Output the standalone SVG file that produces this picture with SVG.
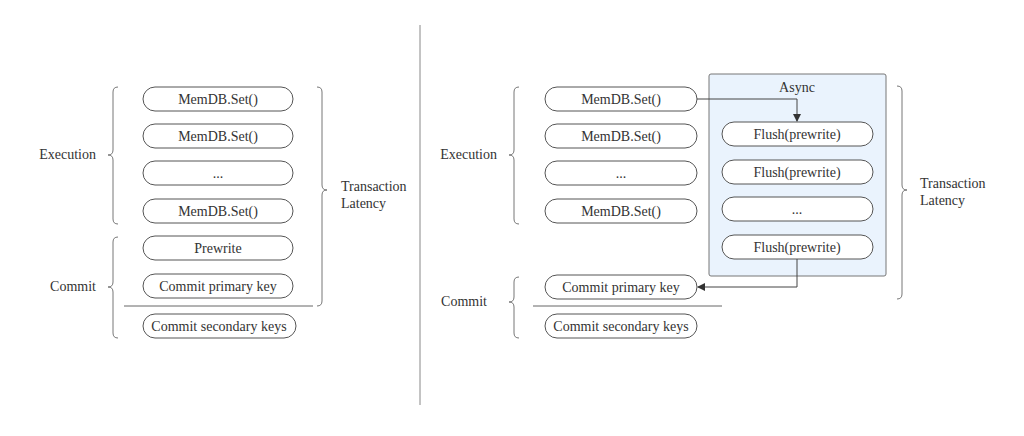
<svg xmlns="http://www.w3.org/2000/svg" width="1024" height="436" viewBox="0 0 1024 436" font-family="'Liberation Serif', 'DejaVu Serif', serif">
<style>
text{font-family:'Liberation Serif','DejaVu Serif',serif;font-size:14px;fill:#333;}
.p rect{fill:#fff;stroke:#555;stroke-width:1}
.p text{text-anchor:middle;dominant-baseline:central}
.b{fill:none;stroke:#777;stroke-width:1}
.c{fill:none;stroke:#444;stroke-width:1}
</style>
<defs><marker id="a" markerWidth="8" markerHeight="8" refX="7" refY="4" orient="auto"><path d="M0,0L8,4L0,8z" fill="#333"/></marker></defs>
<rect width="1024" height="436" fill="#fff"/>
<line x1="420" y1="25" x2="420" y2="405" stroke="#888"/>
<g id="left">
<g class="p"><rect x="143" y="87" width="150" height="24" rx="12"/><text x="218" y="99">MemDB.Set()</text></g>
<g class="p"><rect x="143" y="124" width="150" height="24" rx="12"/><text x="218" y="136">MemDB.Set()</text></g>
<g class="p"><rect x="143" y="161" width="150" height="24" rx="12"/><text x="218" y="173">...</text></g>
<g class="p"><rect x="143" y="199" width="150" height="24" rx="12"/><text x="218" y="211">MemDB.Set()</text></g>
<g class="p"><rect x="143" y="236" width="150" height="24" rx="12"/><text x="218" y="248">Prewrite</text></g>
<g class="p"><rect x="143" y="274" width="150" height="24" rx="12"/><text x="218" y="286">Commit primary key</text></g>
<line x1="124" y1="306" x2="313" y2="306" stroke="#666"/>
<g class="p"><rect x="143" y="314" width="153" height="24" rx="12"/><text x="219" y="326">Commit secondary keys</text></g>
<path class="b" d="M118,87 q-5,0 -5,5 V150 q0,5 -5,5 q5,0 5,5 V219 q0,5 5,5"/>
<text x="96" y="159" text-anchor="end">Execution</text>
<path class="b" d="M118,237 q-5,0 -5,5 V282 q0,5 -5,5 q5,0 5,5 V333 q0,5 5,5"/>
<text x="96" y="291" text-anchor="end">Commit</text>
<path class="b" d="M317,87 q5,0 5,5 V185 q0,5 5,5 q-5,0 -5,5 V301 q0,5 -5,5"/>
<text x="341" y="191">Transaction</text><text x="341" y="208">Latency</text>
</g>
<g id="async"><rect x="709" y="74" width="177" height="202" rx="2" fill="#eaf3fd" stroke="#777"/>
<text x="797" y="92" text-anchor="middle">Async</text></g>
<g id="right">
<g class="p"><rect x="545" y="87" width="152" height="24" rx="12"/><text x="621" y="99">MemDB.Set()</text></g>
<g class="p"><rect x="545" y="124" width="152" height="24" rx="12"/><text x="621" y="136">MemDB.Set()</text></g>
<g class="p"><rect x="545" y="161" width="152" height="24" rx="12"/><text x="621" y="173">...</text></g>
<g class="p"><rect x="545" y="199" width="152" height="24" rx="12"/><text x="621" y="211">MemDB.Set()</text></g>
<g class="p"><rect x="722" y="122" width="151" height="24" rx="12"/><text x="797" y="134">Flush(prewrite)</text></g>
<g class="p"><rect x="722" y="160" width="151" height="24" rx="12"/><text x="797" y="172">Flush(prewrite)</text></g>
<g class="p"><rect x="722" y="197" width="151" height="24" rx="12"/><text x="797" y="209">...</text></g>
<g class="p"><rect x="722" y="235" width="151" height="24" rx="12"/><text x="797" y="247">Flush(prewrite)</text></g>
<g class="p"><rect x="545" y="275" width="152" height="24" rx="12"/><text x="621" y="287">Commit primary key</text></g>
<line x1="533" y1="306" x2="722" y2="306" stroke="#666"/>
<g class="p"><rect x="545" y="314" width="152" height="24" rx="12"/><text x="621" y="326">Commit secondary keys</text></g>
<path class="b" d="M519,87 q-5,0 -5,5 V150 q0,5 -5,5 q5,0 5,5 V219 q0,5 5,5"/>
<text x="497" y="159" text-anchor="end">Execution</text>
<path class="b" d="M519,277 q-5,0 -5,5 V297 q0,5 -5,5 q5,0 5,5 V333 q0,5 5,5"/>
<text x="487" y="306" text-anchor="end">Commit</text>
<path class="b" d="M897,86 q5,0 5,5 V185 q0,5 5,5 q-5,0 -5,5 V294 q0,5 -5,5"/>
<text x="920" y="188">Transaction</text><text x="920" y="205">Latency</text>
</g>
<g id="connectors">
<path class="c" d="M697,99 H797 V121" marker-end="url(#a)"/>
<path class="c" d="M797,259 V287 H698" marker-end="url(#a)"/>
</g>
</svg>
